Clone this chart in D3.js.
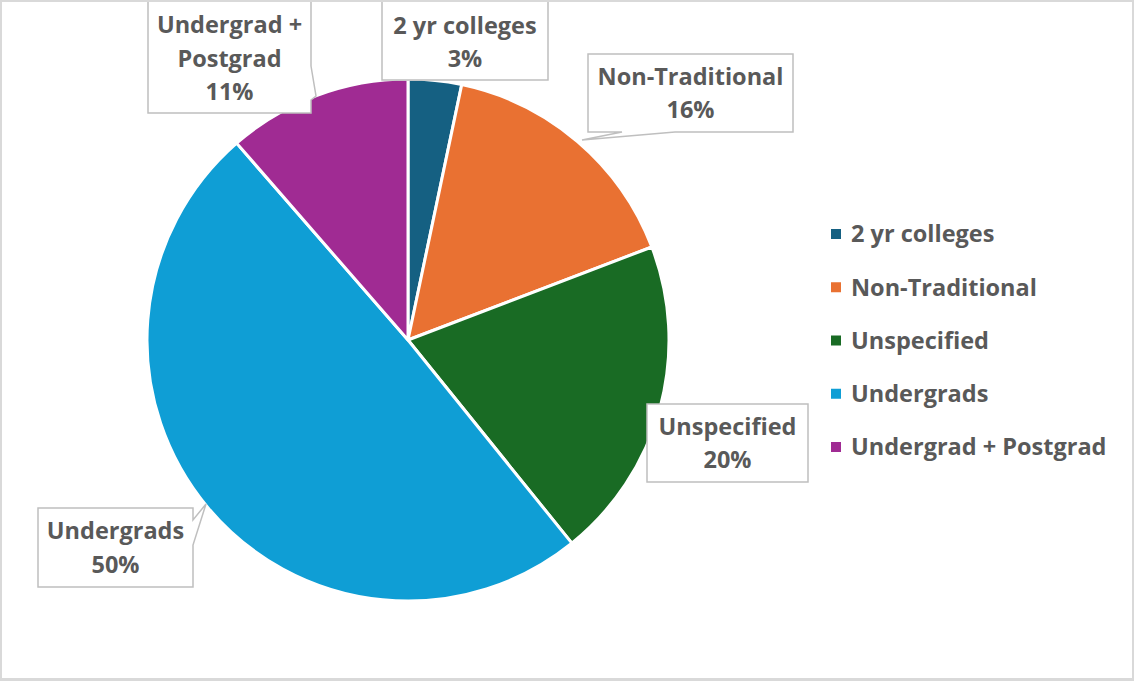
<!DOCTYPE html>
<html>
<head>
<meta charset="utf-8">
<script src="https://cdn.jsdelivr.net/npm/d3@7"></script>
<style>
  body { margin: 0; background: #fff; }
  svg text { font-family: "Open Sans", "Noto Sans", sans-serif; font-weight: 700; fill: #595959; }
</style>
</head>
<body>
<div id="chart"></div>
<script>
const categories = ["2 yr colleges", "Non-Traditional", "Unspecified", "Undergrads", "Undergrad + Postgrad"]
const values = [3.3, 15.9, 20.0, 49.4, 11.4]
const pctLabels = ["3%", "16%", "20%", "50%", "11%"]
const colors = ["#156082", "#E97132", "#196B24", "#0F9ED5", "#A02B93"]

const width = 1134, height = 681
const cx = 408, cy = 340, radius = 261
const fontSize = 23.5

// callout boxes: [x0, y0, x1, y1], pointer = [base1, tip, base2]
const callouts = [
    {box: [382, -6, 548, 80], lines: ["2 yr colleges"], pointer: null},
    {box: [588, 54, 793, 132], lines: ["Non-Traditional"], pointer: [[675, 132], [582, 140], [622, 132]]},
    {box: [647, 404, 808, 482], lines: ["Unspecified"], pointer: null},
    {box: [38, 508, 193, 587], lines: ["Undergrads"], pointer: [[193, 520], [206, 504], [193, 545]]},
    {box: [148, -6, 311, 113], lines: ["Undergrad +", "Postgrad"], pointer: [[311, 66], [316, 96], [311, 100]]}
]

const svg = d3.select("#chart").append("svg")
    .attr("width", width)
    .attr("height", height)

svg.append("rect")
    .attr("x", 0).attr("y", 0)
    .attr("width", width).attr("height", height)
    .attr("fill", "#fff")

const pie = d3.pie().sort(null).value(d => d)
const arc = d3.arc().innerRadius(0).outerRadius(radius)

const g = svg.append("g").attr("transform", "translate(" + cx + "," + cy + ")")

g.selectAll("path.slice")
    .data(pie(values))
    .enter()
    .append("path")
    .attr("class", "slice")
    .attr("d", arc)
    .attr("fill", (d, i) => colors[i])
    .attr("stroke", "#fff")
    .attr("stroke-width", 3)
    .attr("stroke-linejoin", "round")

// callout shapes with pointer
function calloutPath(c) {
    const [x0, y0, x1, y1] = c.box
    if (!c.pointer) return "M" + x0 + "," + y0 + "H" + x1 + "V" + y1 + "H" + x0 + "Z"
    const [b1, tip, b2] = c.pointer
    let pts = []
    if (b1[1] === y1 && b2[1] === y1) {
        // pointer on bottom edge
        pts = [[x0, y0], [x1, y0], [x1, y1], b1, tip, b2, [x0, y1]]
    } else {
        // pointer on right edge
        pts = [[x0, y0], [x1, y0], b1, tip, b2, [x1, y1], [x0, y1]]
    }
    return d3.line()(pts) + "Z"
}

const labels = svg.selectAll("g.callout")
    .data(callouts)
    .enter()
    .append("g")
    .attr("class", "callout")

labels.append("path")
    .attr("d", calloutPath)
    .attr("fill", "#fff")
    .attr("stroke", "#bfbfbf")
    .attr("stroke-width", 1.5)

labels.each(function (c, i) {
    const [x0, y0, x1, y1] = c.box
    const allLines = c.lines.concat([pctLabels[i]])
    const lh = 33.5
    const mid = (y0 + y1) / 2
    const start = (y0 < 0 ? (y1 - 21 - lh * (allLines.length - 1)) : (mid - lh * (allLines.length - 1) / 2))
    allLines.forEach((t, k) => {
        d3.select(this).append("text")
            .attr("x", (x0 + x1) / 2)
            .attr("y", start + k * lh)
            .attr("dy", "0.36em")
            .attr("text-anchor", "middle")
            .attr("font-size", fontSize)
            .text(t)
    })
})

// legend
const legendY = d3.scalePoint().domain(categories).range([234, 447])
const legend = svg.selectAll("g.legend")
    .data(categories)
    .enter()
    .append("g")
    .attr("class", "legend")
    .attr("transform", d => "translate(831," + legendY(d) + ")")

legend.append("rect")
    .attr("x", 0).attr("y", -5)
    .attr("width", 10).attr("height", 10)
    .attr("fill", (d, i) => colors[i])

legend.append("text")
    .attr("x", 20)
    .attr("dy", "0.36em")
    .attr("font-size", fontSize)
    .text(d => d)

// outer border
svg.append("rect")
    .attr("x", 1).attr("y", 1)
    .attr("width", width - 2).attr("height", height - 3)
    .attr("fill", "none")
    .attr("stroke", "#d9d9d9")
    .attr("stroke-width", 2)
svg.append("rect")
    .attr("x", 0).attr("y", height - 3)
    .attr("width", width).attr("height", 3)
    .attr("fill", "#d9d9d9")
</script>
</body>
</html>
